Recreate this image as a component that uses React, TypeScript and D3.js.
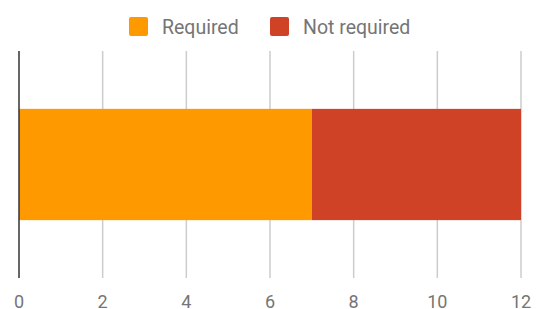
import { useEffect, useRef } from 'react';
import * as d3 from 'd3';

const seriesNames = ['Required', 'Not required'];
const seriesValues = [7, 5];
const seriesColors = ['#ff9900', '#d04226'];
const tickValues = [0, 2, 4, 6, 8, 10, 12];

export default function App() {
  const svgRef = useRef<SVGSVGElement | null>(null);

  useEffect(() => {
    if (!svgRef.current) return;
    const svg = d3.select(svgRef.current);
    svg.selectAll('*').remove();

    const width = 536;
    const height = 309;
    const plotTop = 51;
    const plotBottom = 278;

    const x = d3.scaleLinear().domain([0, 12]).range([19, 521]);
    const y = d3.scaleBand().domain(['row']).range([plotTop, plotBottom]).paddingInner(0).paddingOuter(0.52);

    svg.attr('width', width).attr('height', height);

    // gridlines
    svg.append('g')
      .selectAll('line')
      .data(tickValues.filter(d => d !== 0))
      .join('line')
      .attr('x1', d => x(d))
      .attr('x2', d => x(d))
      .attr('y1', plotTop)
      .attr('y2', plotBottom)
      .attr('stroke', '#cccccc')
      .attr('stroke-width', 1.5);

    // stacked bar
    const starts = d3.cumsum([0, ...seriesValues]);
    svg.append('g')
      .selectAll('rect')
      .data(seriesValues)
      .join('rect')
      .attr('x', (_, i) => x(starts[i]))
      .attr('y', y('row')!)
      .attr('width', (d, i) => x(starts[i] + d) - x(starts[i]))
      .attr('height', y.bandwidth())
      .attr('fill', (_, i) => seriesColors[i]);

    // baseline axis
    svg.append('line')
      .attr('x1', x(0))
      .attr('x2', x(0))
      .attr('y1', plotTop)
      .attr('y2', plotBottom)
      .attr('stroke', '#333333')
      .attr('stroke-width', 1.5);

    // tick labels
    svg.append('g')
      .attr('font-family', 'Roboto, sans-serif')
      .attr('font-size', 18)
      .attr('fill', '#757575')
      .attr('text-anchor', 'middle')
      .selectAll('text')
      .data(tickValues)
      .join('text')
      .attr('x', d => x(d))
      .attr('y', 308)
      .text(d => d);

    // legend
    const legendX = [129, 270];
    const leg = svg.append('g')
      .selectAll('g')
      .data(seriesNames)
      .join('g')
      .attr('transform', (_, i) => `translate(${legendX[i]},17)`);
    leg.append('rect')
      .attr('width', 19)
      .attr('height', 19)
      .attr('rx', 2)
      .attr('fill', (_, i) => seriesColors[i]);
    leg.append('text')
      .attr('x', 33)
      .attr('y', 17)
      .attr('font-family', 'Roboto, sans-serif')
      .attr('font-size', 19.5)
      .attr('fill', '#757575')
      .text(d => d);
  }, []);

  return (
    <div style={{ position: 'absolute', left: 0, top: 0 }}>
      <svg ref={svgRef} style={{ display: 'block' }}></svg>
    </div>
  );
}
